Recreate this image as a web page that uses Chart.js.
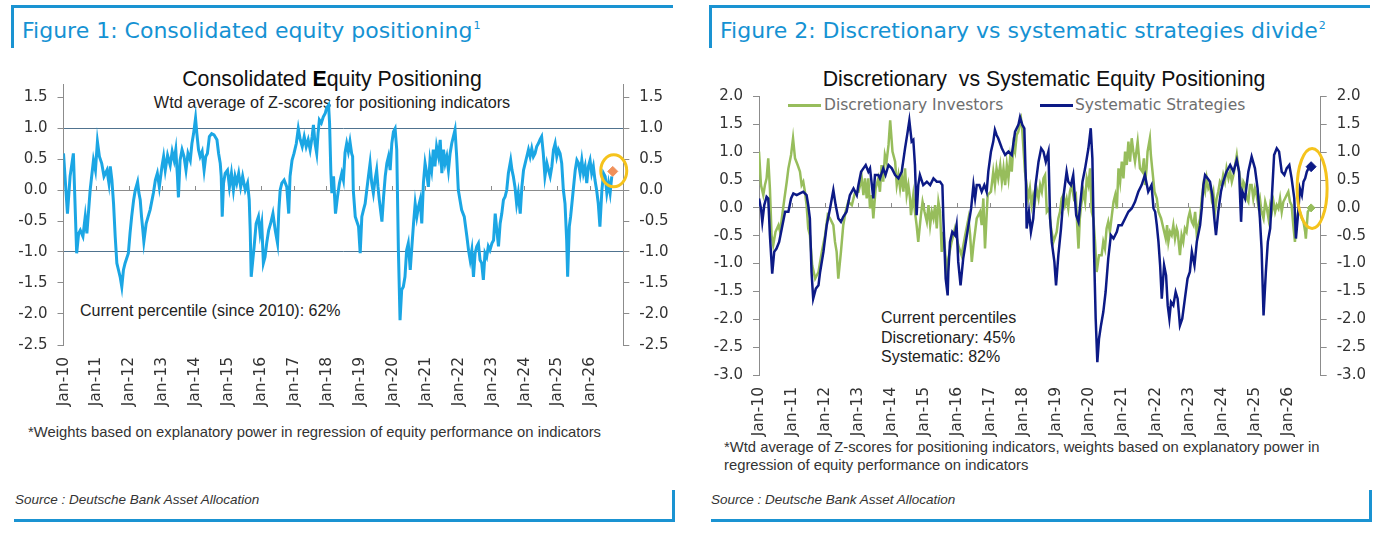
<!DOCTYPE html>
<html>
<head>
<meta charset="utf-8">
<title>Equity positioning</title>
<script src="https://cdn.jsdelivr.net/npm/chart.js@4.4.1/dist/chart.umd.min.js"></script>
<style>
  html, body { margin: 0; padding: 0; background: #fff; }
  body { width: 1390px; height: 538px; position: relative; overflow: hidden;
         font-family: "Liberation Sans", Arial, sans-serif; color: #222; }
  .abs { position: absolute; white-space: pre; z-index: 1; }
  .rule { position: absolute; background: #1a93d2; }
  .fig-title { font-family: "DejaVu Sans", sans-serif; font-size: 22px; line-height: 22px; color: #1592d3; }
  .fig-title sup { font-size: 11px; vertical-align: baseline; position: relative; top: -9px; margin-left: 1px; }
  .chart-title { font-size: 21.3px; line-height: 21px; color: #111; transform: translateX(-50%); }
  .chart-title b { color: #000; }
  .sub { font-size: 16.2px; line-height: 16px; color: #222; transform: translateX(-50%); }
  .note { font-size: 16px; line-height: 19.5px; color: #222; }
  .foot { font-size: 14.8px; line-height: 17.6px; color: #333; }
  .src { font-size: 13.5px; line-height: 13px; font-style: italic; color: #333; }
  .legend { font-family: "DejaVu Sans", sans-serif; font-size: 15.5px; line-height: 16px; color: #6e6e6e; }
  .swatch { position: absolute; height: 2.5px; z-index: 1; }
  canvas { position: absolute; top: 60px; z-index: 2; }
</style>
</head>
<body>

<!-- Figure 1 frame -->
<div class="rule" style="left:11px;top:5px;width:662px;height:3px;"></div>
<div class="rule" style="left:11px;top:5px;width:3px;height:43px;"></div>
<div class="abs fig-title" style="left:22px;top:20px;">Figure 1: Consolidated equity positioning<sup>1</sup></div>
<div class="abs chart-title" style="left:332px;top:69px;">Consolidated <b>E</b>quity Positioning</div>
<div class="abs sub" style="left:332px;top:94px;">Wtd average of Z-scores for positioning indicators</div>
<div class="abs note" style="left:80px;top:301px;">Current percentile (since 2010): 62%</div>
<div class="abs foot" style="left:28px;top:424px;">*Weights based on explanatory power in regression of equity performance on indicators</div>
<div class="abs src" style="left:15px;top:493px;">Source : Deutsche Bank Asset Allocation</div>
<div class="rule" style="left:14px;top:519px;width:661px;height:3px;"></div>
<div class="rule" style="left:672px;top:490px;width:3px;height:32px;"></div>

<!-- Figure 2 frame -->
<div class="rule" style="left:709px;top:5px;width:661px;height:3px;"></div>
<div class="rule" style="left:709px;top:5px;width:3px;height:43px;"></div>
<div class="abs fig-title" style="left:720px;top:20px;">Figure 2: Discretionary vs systematic strategies divide<sup>2</sup></div>
<div class="abs chart-title" style="left:1044px;top:69px;">Discretionary  vs Systematic Equity Positioning</div>
<div class="swatch" style="left:788px;top:104px;width:33px;background:#97bd5c;"></div>
<div class="abs legend" style="left:824px;top:97px;">Discretionary Investors</div>
<div class="swatch" style="left:1040px;top:104px;width:33px;background:#0c1a86;"></div>
<div class="abs legend" style="left:1075px;top:97px;">Systematic Strategies</div>
<div class="abs note" style="left:881px;top:308px;">Current percentiles
Discretionary: 45%
Systematic: 82%</div>
<div class="abs foot" style="left:724px;top:439px;">*Wtd average of Z-scores for positioning indicators, weights based on explanatory power in
regression of equity performance on indicators</div>
<div class="abs src" style="left:711px;top:493px;">Source : Deutsche Bank Asset Allocation</div>
<div class="rule" style="left:711px;top:519px;width:661px;height:3px;"></div>
<div class="rule" style="left:1369px;top:490px;width:3px;height:32px;"></div>

<canvas id="fig1" width="695" height="400" style="left:0px;"></canvas>
<canvas id="fig2" width="695" height="400" style="left:695px;"></canvas>

<script>
'use strict';

// ---- axis content ----
const yearTicks = [2010, 2011, 2012, 2013, 2014, 2015, 2016, 2017, 2018, 2019, 2020, 2021, 2022, 2023, 2024, 2025, 2026];
const yearLabels = ['Jan-10', 'Jan-11', 'Jan-12', 'Jan-13', 'Jan-14', 'Jan-15', 'Jan-16', 'Jan-17', 'Jan-18',
                    'Jan-19', 'Jan-20', 'Jan-21', 'Jan-22', 'Jan-23', 'Jan-24', 'Jan-25', 'Jan-26'];
const xRange = [2010, 2027];

const fig1YTicks = [1.5, 1.0, 0.5, 0.0, -0.5, -1.0, -1.5, -2.0, -2.5];
const fig1YRange = [-2.5, 1.7];
const fig2YTicks = [2.0, 1.5, 1.0, 0.5, 0.0, -0.5, -1.0, -1.5, -2.0, -2.5, -3.0];
const fig2YRange = [-3.0, 2.0];

// ---- Figure 1: consolidated positioning (decimal year, z-score) ----
const fig1Dates = [
  2010.00, 2010.12, 2010.20, 2010.30, 2010.40, 2010.46, 2010.51, 2010.59, 2010.66, 2010.71, 2010.81, 2010.91, 2010.97,
  2011.03, 2011.09, 2011.16, 2011.23, 2011.32, 2011.38, 2011.42, 2011.47, 2011.52, 2011.57, 2011.62, 2011.67, 2011.72,
  2011.77, 2011.82, 2011.87, 2011.97, 2012.02, 2012.07, 2012.13, 2012.18, 2012.25, 2012.29, 2012.33, 2012.37, 2012.41,
  2012.44, 2012.51, 2012.57, 2012.63, 2012.73, 2012.79, 2012.85, 2012.91, 2012.99, 2013.04, 2013.09, 2013.16, 2013.24,
  2013.30, 2013.36, 2013.41, 2013.46, 2013.49, 2013.54, 2013.60, 2013.66, 2013.72, 2013.78, 2013.85, 2013.90, 2013.95,
  2014.01, 2014.05, 2014.10, 2014.15, 2014.21, 2014.27, 2014.32, 2014.37, 2014.43, 2014.50, 2014.57, 2014.66, 2014.71,
  2014.76, 2014.79, 2014.82, 2014.86, 2014.91, 2014.98, 2015.04, 2015.10, 2015.16, 2015.21, 2015.26, 2015.32, 2015.38,
  2015.44, 2015.52, 2015.59, 2015.64, 2015.67, 2015.70, 2015.74, 2015.79, 2015.85, 2015.92, 2015.97, 2016.02, 2016.07,
  2016.12, 2016.17, 2016.23, 2016.29, 2016.36, 2016.43, 2016.50, 2016.54, 2016.58, 2016.63, 2016.70, 2016.78, 2016.84,
  2016.88, 2016.94, 2017.00, 2017.07, 2017.13, 2017.19, 2017.25, 2017.31, 2017.37, 2017.43, 2017.49, 2017.55, 2017.59,
  2017.64, 2017.69, 2017.73, 2017.77, 2017.83, 2017.89, 2017.95, 2017.99, 2018.05, 2018.08, 2018.12, 2018.15, 2018.20,
  2018.26, 2018.32, 2018.38, 2018.45, 2018.50, 2018.55, 2018.60, 2018.65, 2018.70, 2018.75, 2018.78, 2018.80, 2018.86,
  2018.96, 2019.01, 2019.06, 2019.11, 2019.16, 2019.21, 2019.26, 2019.31, 2019.36, 2019.41, 2019.46, 2019.51, 2019.55,
  2019.59, 2019.67, 2019.72, 2019.77, 2019.82, 2019.87, 2019.92, 2019.97, 2020.02, 2020.07, 2020.12, 2020.17, 2020.22,
  2020.27, 2020.32, 2020.37, 2020.42, 2020.47, 2020.53, 2020.58, 2020.63, 2020.68, 2020.73, 2020.78, 2020.83, 2020.88,
  2020.93, 2020.98, 2021.03, 2021.08, 2021.13, 2021.18, 2021.23, 2021.28, 2021.33, 2021.39, 2021.44, 2021.49, 2021.54,
  2021.59, 2021.64, 2021.69, 2021.74, 2021.79, 2021.84, 2021.89, 2021.94, 2021.99, 2022.04, 2022.09, 2022.17, 2022.25,
  2022.30, 2022.35, 2022.40, 2022.45, 2022.50, 2022.55, 2022.60, 2022.65, 2022.70, 2022.75, 2022.80, 2022.85, 2022.90,
  2022.95, 2023.01, 2023.06, 2023.11, 2023.16, 2023.21, 2023.26, 2023.31, 2023.36, 2023.41, 2023.46, 2023.51, 2023.58,
  2023.62, 2023.66, 2023.71, 2023.76, 2023.81, 2023.87, 2023.92, 2023.97, 2024.02, 2024.07, 2024.12, 2024.17, 2024.22,
  2024.27, 2024.32, 2024.37, 2024.42, 2024.47, 2024.52, 2024.57, 2024.62, 2024.68, 2024.73, 2024.78, 2024.83, 2024.88,
  2024.93, 2024.98, 2025.03, 2025.08, 2025.13, 2025.18, 2025.23, 2025.28, 2025.31, 2025.36, 2025.40, 2025.43, 2025.48,
  2025.54, 2025.59, 2025.64, 2025.69, 2025.74, 2025.79, 2025.84, 2025.89, 2025.94, 2025.99, 2026.04, 2026.09, 2026.14,
  2026.19, 2026.24, 2026.29, 2026.35, 2026.40, 2026.45, 2026.50, 2026.55, 2026.60, 2026.65
];
const fig1Values = [
  0.59, -0.38, 0.22, 0.59, -1.02, -0.70, -0.65, -0.75, -0.43, -0.70, 0.00, 0.48, 0.32,
  0.78, 0.54, 0.43, 0.22, 0.32, 0.11, 0.38, 0.16, -0.22, -0.75, -1.18, -1.29, -1.40,
  -1.56, -1.29, -1.18, -1.02, -0.70, -0.43, -0.16, 0.00, 0.13, -0.05, -0.16, -0.43, -0.65,
  -0.83, -0.54, -0.43, -0.32, -0.05, 0.16, 0.27, 0.05, 0.38, 0.54, 0.32, 0.56, 0.40,
  0.62, 0.48, 0.65, 0.22, -0.12, 0.48, 0.65, 0.54, 0.32, 0.59, 0.48, 0.75, 0.91,
  1.16, 0.91, 0.65, 0.54, 0.62, 0.32, 0.54, 0.59, 0.86, 0.91, 0.89, 0.81, 0.59,
  0.43, 0.22, -0.43, 0.11, 0.27, 0.32, 0.05, 0.27, 0.00, 0.22, 0.11, 0.27, 0.05,
  0.22, 0.00, 0.11, -0.16, -0.65, -1.40, -1.18, -0.91, -0.54, -0.43, -0.70, -0.54, -1.18,
  -1.08, -0.86, -0.65, -0.54, -0.38, -0.65, -0.86, -0.32, 0.00, 0.11, 0.16, 0.05, -0.38,
  0.22, 0.48, 0.59, 0.75, 0.99, 0.81, 0.70, 0.86, 0.70, 0.81, 0.65, 0.86, 1.05,
  0.75, 0.59, 0.91, 1.13, 1.08, 1.18, 1.24, 1.32, 1.37, 1.08, 0.27, -0.05, 0.22,
  -0.38, -0.11, 0.11, 0.27, 0.16, 0.60, 0.75, 0.62, 0.78, 0.59, 0.54, 0.00, -0.43,
  -0.59, -1.02, -0.43, -0.32, -0.22, 0.00, 0.22, 0.43, 0.11, -0.05, 0.16, 0.32, 0.05,
  -0.16, -0.51, -0.11, 0.22, 0.43, 0.54, 0.32, 0.75, 0.94, 0.99, 0.65, -0.97, -2.10,
  -1.61, -1.56, -1.40, -0.97, -0.86, -1.29, -0.91, -0.54, -0.22, -0.43, -0.27, -0.16, -0.54,
  0.11, 0.43, 0.27, 0.05, 0.48, 0.32, 0.65, 0.38, 0.70, 0.54, 0.81, 0.27, 0.65,
  0.43, 0.54, 0.32, 0.59, 0.75, 0.86, 0.97, 0.54, 0.00, -0.16, -0.32, -0.43, -0.75,
  -0.97, -1.13, -0.97, -1.40, -1.02, -0.91, -0.86, -1.13, -1.18, -1.45, -1.02, -1.08, -0.91,
  -0.97, -0.86, -0.81, -0.38, -0.65, -0.91, -0.54, -0.38, -0.16, -0.11, 0.00, 0.27, 0.48,
  0.32, 0.22, 0.05, -0.22, -0.05, -0.38, 0.05, 0.32, 0.43, 0.54, 0.65, 0.54, 0.67,
  0.54, 0.59, 0.70, 0.75, 0.81, 0.86, 0.59, 0.22, 0.43, 0.32, 0.22, 0.38, 0.65,
  0.75, 0.54, 0.65, 0.59, 0.43, 0.00, -0.22, -0.81, -1.40, -0.59, -0.43, -0.27, 0.00,
  0.32, 0.48, 0.43, 0.27, 0.48, 0.27, 0.38, 0.11, 0.38, 0.48, 0.27, 0.38, 0.16,
  0.00, -0.22, -0.59, 0.00, 0.27, 0.22, -0.05, 0.11, -0.05, 0.22
];
const fig1Latest = [2026.68, 0.30];
const fig1Ring = [2026.71, 0.31];

// ---- Figure 2: systematic strategies ----
const sysDates = [
  2010.00, 2010.06, 2010.10, 2010.16, 2010.23, 2010.28, 2010.33, 2010.40, 2010.46, 2010.53, 2010.61, 2010.69, 2010.79,
  2010.89, 2010.97, 2011.04, 2011.14, 2011.24, 2011.34, 2011.44, 2011.49, 2011.54, 2011.59, 2011.64, 2011.72, 2011.80,
  2011.85, 2011.95, 2012.05, 2012.15, 2012.25, 2012.32, 2012.40, 2012.48, 2012.55, 2012.65, 2012.75, 2012.86, 2012.96,
  2013.01, 2013.09, 2013.16, 2013.23, 2013.31, 2013.36, 2013.46, 2013.51, 2013.61, 2013.66, 2013.76, 2013.83, 2013.92,
  2014.02, 2014.12, 2014.22, 2014.32, 2014.42, 2014.50, 2014.55, 2014.62, 2014.67, 2014.72, 2014.77, 2014.82, 2014.87,
  2014.97, 2015.08, 2015.18, 2015.28, 2015.38, 2015.48, 2015.55, 2015.58, 2015.65, 2015.71, 2015.73, 2015.78, 2015.85,
  2015.93, 2015.98, 2016.03, 2016.10, 2016.18, 2016.26, 2016.34, 2016.42, 2016.49, 2016.54, 2016.59, 2016.67, 2016.74,
  2016.82, 2016.89, 2016.94, 2017.02, 2017.09, 2017.14, 2017.19, 2017.24, 2017.35, 2017.45, 2017.55, 2017.65, 2017.75,
  2017.85, 2017.90, 2017.97, 2018.03, 2018.08, 2018.10, 2018.17, 2018.23, 2018.30, 2018.37, 2018.46, 2018.54, 2018.61,
  2018.68, 2018.76, 2018.81, 2018.86, 2018.94, 2018.99, 2019.06, 2019.14, 2019.22, 2019.31, 2019.36, 2019.44, 2019.51,
  2019.60, 2019.67, 2019.72, 2019.79, 2019.87, 2019.97, 2020.04, 2020.09, 2020.14, 2020.19, 2020.24, 2020.29, 2020.35,
  2020.42, 2020.49, 2020.57, 2020.65, 2020.73, 2020.83, 2020.88, 2020.98, 2021.08, 2021.18, 2021.28, 2021.38, 2021.48,
  2021.58, 2021.68, 2021.78, 2021.88, 2021.94, 2021.99, 2022.04, 2022.09, 2022.14, 2022.19, 2022.26, 2022.32, 2022.37,
  2022.42, 2022.47, 2022.54, 2022.61, 2022.67, 2022.74, 2022.81, 2022.89, 2022.97, 2023.04, 2023.10, 2023.18, 2023.25,
  2023.35, 2023.40, 2023.45, 2023.50, 2023.58, 2023.65, 2023.72, 2023.78, 2023.83, 2023.90, 2023.98, 2024.05, 2024.15,
  2024.26, 2024.36, 2024.46, 2024.53, 2024.59, 2024.63, 2024.71, 2024.81, 2024.91, 2025.01, 2025.09, 2025.16, 2025.21,
  2025.27, 2025.34, 2025.40, 2025.47, 2025.52, 2025.59, 2025.67, 2025.74, 2025.82, 2025.90, 2025.97, 2026.05, 2026.12,
  2026.20, 2026.25, 2026.32, 2026.37, 2026.43, 2026.48, 2026.53, 2026.58, 2026.63, 2026.71
];
const sysValues = [
  0.17, -0.01, -0.25, 0.05, 0.20, 0.17, -0.49, -1.18, -0.79, -0.73, -0.61, -0.37, -0.07,
  -0.07, 0.17, 0.26, 0.23, 0.26, 0.29, 0.23, 0.05, -0.19, -1.15, -1.63, -1.45, -1.39,
  -1.15, -0.79, -0.31, -0.01, 0.32, 0.05, -0.19, -0.25, -0.16, -0.07, 0.23, 0.35, 0.23,
  0.41, 0.65, 0.71, 0.77, 0.65, 0.71, 0.17, 0.59, 0.59, 0.53, 0.71, 0.59, 0.77,
  0.71, 0.59, 0.53, 0.65, 1.07, 1.37, 1.57, 1.19, 1.22, 0.77, -0.13, 0.41, 0.59,
  0.41, 0.47, 0.41, 0.53, 0.47, 0.47, 0.41, -0.19, -1.27, -1.57, -1.15, -0.61, -0.43,
  -0.49, -0.31, -0.97, -1.39, -0.91, -0.61, -0.31, -0.01, 0.41, 0.17, 0.41, 0.41, 0.29,
  0.41, 0.29, 0.65, 1.01, 1.19, 1.40, 1.31, 1.25, 1.07, 0.95, 1.01, 0.95, 1.37,
  1.49, 1.63, 1.49, 1.43, 0.41, -0.37, -0.07, -0.43, -0.19, 0.41, 0.83, 1.07, 1.01,
  0.83, 1.01, -0.19, -0.61, -0.97, -1.39, -0.85, -0.37, 0.23, 0.65, 0.47, 0.41, 0.59,
  -0.13, -0.25, 0.05, 0.47, 0.71, 1.07, 1.43, 0.89, -0.79, -1.99, -2.77, -2.35, -2.11,
  -1.87, -1.51, -0.91, -0.49, -0.55, -0.43, -0.31, -0.31, -0.19, -0.07, -0.01, 0.11, 0.29,
  0.41, 0.59, 0.29, 0.41, -0.01, -0.07, -0.31, -0.61, -1.03, -1.63, -1.03, -1.21, -1.75,
  -1.99, -1.69, -1.75, -1.51, -1.63, -2.11, -1.99, -1.63, -1.27, -1.15, -0.79, -1.03, -0.61,
  -0.31, -0.01, 0.41, 0.59, 0.53, 0.47, 0.23, -0.19, -0.49, -0.07, 0.29, 0.47, 0.65,
  0.77, 0.65, 0.86, 0.65, -0.25, 0.29, 0.17, 0.65, 0.92, 0.71, 0.35, -0.19, -0.73,
  -1.93, -1.15, -0.61, -0.37, 0.17, 0.95, 1.07, 1.01, 0.65, 0.59, 0.71, 0.77, 0.53,
  0.17, -0.55, -0.07, 0.35, 0.23, 0.47, 0.53, 0.65, 0.71, 0.74
];

// ---- Figure 2: discretionary investors ----
const discDates = [
  2010.00, 2010.06, 2010.13, 2010.18, 2010.23, 2010.28, 2010.33, 2010.38, 2010.43, 2010.50, 2010.59, 2010.64, 2010.69,
  2010.77, 2010.84, 2010.89, 2010.97, 2011.03, 2011.09, 2011.17, 2011.24, 2011.29, 2011.34, 2011.39, 2011.44, 2011.49,
  2011.54, 2011.61, 2011.70, 2011.80, 2011.90, 2012.00, 2012.08, 2012.15, 2012.25, 2012.30, 2012.35, 2012.40, 2012.48,
  2012.55, 2012.62, 2012.70, 2012.81, 2012.91, 2013.01, 2013.11, 2013.16, 2013.21, 2013.26, 2013.31, 2013.36, 2013.41,
  2013.46, 2013.53, 2013.61, 2013.66, 2013.71, 2013.76, 2013.81, 2013.86, 2013.92, 2013.97, 2014.04, 2014.12, 2014.17,
  2014.22, 2014.27, 2014.32, 2014.37, 2014.42, 2014.47, 2014.52, 2014.57, 2014.60, 2014.67, 2014.72, 2014.77, 2014.82,
  2014.90, 2014.95, 2015.01, 2015.08, 2015.13, 2015.18, 2015.23, 2015.28, 2015.33, 2015.38, 2015.43, 2015.48, 2015.53,
  2015.58, 2015.65, 2015.68, 2015.73, 2015.83, 2015.93, 2016.03, 2016.13, 2016.24, 2016.34, 2016.39, 2016.44, 2016.49,
  2016.59, 2016.69, 2016.74, 2016.79, 2016.84, 2016.92, 2017.02, 2017.09, 2017.14, 2017.19, 2017.24, 2017.30, 2017.35,
  2017.40, 2017.45, 2017.50, 2017.55, 2017.60, 2017.65, 2017.70, 2017.75, 2017.80, 2017.85, 2017.90, 2017.93, 2017.97,
  2018.01, 2018.05, 2018.10, 2018.15, 2018.20, 2018.25, 2018.30, 2018.35, 2018.40, 2018.46, 2018.51, 2018.56, 2018.61,
  2018.66, 2018.71, 2018.78, 2018.84, 2018.91, 2019.01, 2019.06, 2019.11, 2019.16, 2019.21, 2019.26, 2019.31, 2019.36,
  2019.41, 2019.46, 2019.53, 2019.59, 2019.63, 2019.67, 2019.71, 2019.75, 2019.82, 2019.87, 2019.92, 2019.97, 2020.02,
  2020.07, 2020.12, 2020.17, 2020.22, 2020.29, 2020.37, 2020.42, 2020.47, 2020.52, 2020.57, 2020.62, 2020.68, 2020.73,
  2020.78, 2020.83, 2020.88, 2020.93, 2020.98, 2021.03, 2021.08, 2021.13, 2021.18, 2021.23, 2021.28, 2021.33, 2021.38,
  2021.46, 2021.53, 2021.60, 2021.65, 2021.68, 2021.73, 2021.76, 2021.83, 2021.86, 2021.90, 2021.97, 2022.04, 2022.09,
  2022.17, 2022.24, 2022.31, 2022.35, 2022.39, 2022.44, 2022.49, 2022.54, 2022.59, 2022.64, 2022.67, 2022.74, 2022.79,
  2022.84, 2022.89, 2022.94, 2022.99, 2023.04, 2023.10, 2023.15, 2023.20, 2023.25, 2023.30, 2023.35, 2023.40, 2023.45,
  2023.50, 2023.55, 2023.60, 2023.65, 2023.70, 2023.75, 2023.80, 2023.85, 2023.90, 2023.95, 2024.00, 2024.05, 2024.10,
  2024.15, 2024.21, 2024.26, 2024.31, 2024.36, 2024.41, 2024.46, 2024.51, 2024.56, 2024.61, 2024.66, 2024.71, 2024.76,
  2024.81, 2024.86, 2024.91, 2024.96, 2025.01, 2025.06, 2025.11, 2025.16, 2025.21, 2025.27, 2025.32, 2025.37, 2025.42,
  2025.47, 2025.52, 2025.57, 2025.62, 2025.67, 2025.72, 2025.77, 2025.82, 2025.87, 2025.92, 2025.97, 2026.02, 2026.07,
  2026.12, 2026.17, 2026.22, 2026.27, 2026.32, 2026.37, 2026.43, 2026.48, 2026.53, 2026.55, 2026.61, 2026.68
];
const discValues = [
  1.01, 0.41, 0.23, 0.41, 0.53, 0.89, 0.35, -0.49, -0.67, -0.43, -0.31, -0.43, -0.19,
  0.17, 0.47, 0.71, 0.95, 1.25, 0.89, 0.77, 0.65, 0.41, 0.47, 0.29, 0.05, -0.37,
  -0.49, -1.03, -1.27, -1.15, -0.79, -0.49, -0.13, -0.19, -0.31, -0.61, -0.79, -1.27, -0.79,
  -0.31, -0.07, 0.11, 0.05, 0.29, 0.29, 0.53, 0.23, 0.53, 0.17, 0.53, -0.01, 0.23,
  -0.19, 0.35, 0.53, 0.29, 0.77, 0.47, 0.95, 0.83, 1.13, 1.57, 1.01, 0.83, 0.41,
  0.59, 0.35, 0.59, 0.29, 0.71, 0.23, 0.41, 0.17, -0.13, 0.23, -0.07, -0.31, -0.61,
  -0.13, 0.11, -0.07, -0.25, 0.05, -0.31, -0.07, -0.19, 0.05, -0.37, 0.11, -0.07, -0.79,
  -0.43, -0.91, -1.27, -0.91, -0.61, -0.37, -0.67, -0.85, -0.49, -0.19, -0.49, -0.97, -0.67,
  -0.19, -0.07, -0.31, 0.17, -0.73, 0.23, 0.29, 0.65, 0.41, 0.71, 0.53, 0.77, 0.47,
  0.71, 0.41, 0.77, 0.53, 0.89, 0.65, 1.13, 1.01, 1.31, 1.37, 1.54, 1.60, 1.37,
  1.01, 0.65, 0.41, 0.17, 0.35, 0.05, 0.23, 0.11, 0.35, 0.17, 0.41, 0.29, 0.53,
  0.59, -0.07, -0.01, -0.37, -0.61, -0.43, -0.19, -0.07, 0.17, 0.23, 0.05, 0.17, -0.01,
  0.29, 0.41, 0.17, 0.23, -0.31, -0.73, -0.19, 0.05, 0.29, 0.11, 0.53, 0.41, 0.71,
  -0.07, -0.19, -0.61, -1.15, -0.85, -0.85, -0.61, -0.73, -0.37, -0.25, -0.43, -0.13, 0.11,
  0.23, -0.01, 0.71, 0.47, 0.83, 0.53, 1.01, 0.77, 1.19, 0.83, 1.25, 1.01, 0.83,
  1.19, 0.71, 0.65, 0.89, 0.41, 0.71, 1.01, 1.25, 0.95, 0.71, 0.29, 0.17, -0.07,
  -0.19, -0.37, -0.55, -0.31, -0.61, -0.43, -0.49, -0.31, -0.55, -0.37, -0.43, -0.85, -0.49,
  -0.61, -0.37, -0.43, -0.19, -0.07, -0.25, -0.31, -0.07, -0.49, -0.31, -0.19, 0.17, 0.41,
  0.29, 0.53, 0.35, 0.41, 0.17, 0.29, -0.07, 0.17, 0.29, 0.47, 0.41, 0.59, 0.47,
  0.71, 0.53, 0.65, 0.47, 0.59, 0.77, 0.95, 0.71, 0.53, 0.23, 0.47, 0.41, 0.17,
  0.11, 0.41, 0.41, 0.17, 0.35, 0.23, 0.05, 0.17, -0.07, -0.19, 0.11, -0.01, -0.19,
  0.05, -0.07, 0.11, -0.07, 0.05, -0.01, 0.17, -0.07, 0.11, 0.17, 0.23, 0.29, 0.11,
  0.05, -0.31, -0.61, -0.25, -0.07, -0.07, -0.19, -0.25, -0.43, -0.55, -0.07, -0.01
];
const sysLatest = [2026.71, 0.74];
const discLatest = [2026.71, 0.00];
const fig2Ring = [2026.74, 0.35];

const COLORS = {
    consolidated: '#1ba6e4',
    latestDot: '#f0905a',
    discretionary: '#97bd5c',
    systematic: '#0c1a86',
    ring: '#f5c31c',
    axis: '#8c8c8c',
    band: '#50738f',
    tick: '#333',
};

Chart.defaults.font.family = '"DejaVu Sans", "Liberation Sans", sans-serif';
Chart.defaults.color = COLORS.tick;

function toPoints(dates, values) {
    return dates.map((d, i) => ({ x: d, y: values[i] }));
}

// yellow ring around the latest reading
const highlightRing = {
    id: 'highlightRing',
    afterDatasetsDraw(chart, args, opts) {
        const { ctx, scales } = chart;
        const cx = scales.x.getPixelForValue(opts.at[0]);
        const cy = scales.y.getPixelForValue(opts.at[1]);
        ctx.save();
        ctx.strokeStyle = COLORS.ring;
        ctx.lineWidth = 3;
        ctx.beginPath();
        ctx.ellipse(cx, cy, opts.rx, opts.ry, 0, 0, Math.PI * 2);
        ctx.stroke();
        ctx.restore();
    }
};

function yAxis(position, range, ticks, width, bandColor) {
    return {
        type: 'linear',
        axis: 'y',
        position,
        min: range[0],
        max: range[1],
        afterBuildTicks: s => { s.ticks = ticks.map(v => ({ value: v })); },
        afterFit: s => { s.width = width; },
        ticks: { font: { size: 15 }, color: COLORS.tick, padding: 10, callback: v => Number(v).toFixed(1) },
        grid: {
            drawOnChartArea: !!bandColor,
            color: bandColor || 'transparent',
            tickColor: COLORS.axis,
            tickLength: 6,
        },
        border: { display: true, color: COLORS.axis, width: 1 },
    };
}

function xAxes(height) {
    return {
        x: {
            type: 'linear',
            min: xRange[0],
            max: xRange[1],
            afterBuildTicks: s => { s.ticks = yearTicks.map(v => ({ value: v })); },
            afterFit: s => { s.height = height; },
            ticks: {
                autoSkip: false,
                minRotation: 90,
                maxRotation: 90,
                padding: 12,
                font: { size: 15.5 },
                color: COLORS.tick,
                callback: v => yearLabels[yearTicks.indexOf(v)],
            },
            grid: { display: false, drawTicks: false },
            border: { display: false },
        },
        // zero line with year tick marks
        x2: {
            type: 'linear',
            axis: 'x',
            position: { y: 0 },
            min: xRange[0],
            max: xRange[1],
            afterBuildTicks: s => { s.ticks = yearTicks.map(v => ({ value: v })); },
            ticks: { display: false },
            grid: { drawOnChartArea: false, drawTicks: true, tickLength: -5, tickColor: COLORS.axis },
            border: { display: true, color: COLORS.axis, width: 1 },
        },
    };
}

function baseOptions(padTop, scales, ring) {
    return {
        responsive: false,
        animation: false,
        layout: { padding: { top: padTop, left: 0, right: 0, bottom: 0 } },
        plugins: {
            legend: { display: false },
            tooltip: { enabled: false },
            highlightRing: ring,
        },
        scales,
    };
}

// Figure 1
const bandAtOne = ctx => (ctx.tick && Math.abs(Math.abs(ctx.tick.value) - 1) < 1e-9) ? COLORS.band : 'transparent';

new Chart(document.getElementById('fig1'), {
    type: 'line',
    data: {
        datasets: [
            {
                label: 'Latest',
                data: [{ x: fig1Latest[0], y: fig1Latest[1] }],
                showLine: false,
                pointStyle: 'rectRot',
                pointRadius: 5,
                backgroundColor: COLORS.latestDot,
                borderColor: COLORS.latestDot,
            },
            {
                label: 'Consolidated Equity Positioning',
                data: toPoints(fig1Dates, fig1Values),
                borderColor: COLORS.consolidated,
                borderWidth: 3,
                pointRadius: 0,
                tension: 0,
            },
        ],
    },
    options: baseOptions(24.6, Object.assign({
        y: yAxis('left', fig1YRange, fig1YTicks, 63.5, bandAtOne),
        yR: yAxis('right', fig1YRange, fig1YTicks, 71.7, null),
    }, xAxes(115)), { at: fig1Ring, rx: 13, ry: 16 }),
    plugins: [highlightRing],
});

// Figure 2
new Chart(document.getElementById('fig2'), {
    type: 'line',
    data: {
        datasets: [
            {
                label: 'Systematic latest',
                data: [{ x: sysLatest[0], y: sysLatest[1] }],
                showLine: false,
                pointStyle: 'rectRot',
                pointRadius: 5,
                backgroundColor: COLORS.systematic,
                borderColor: COLORS.systematic,
            },
            {
                label: 'Systematic Strategies',
                data: toPoints(sysDates, sysValues),
                borderColor: COLORS.systematic,
                borderWidth: 2.5,
                pointRadius: 0,
                tension: 0,
            },
            {
                label: 'Discretionary latest',
                data: [{ x: discLatest[0], y: discLatest[1] }],
                showLine: false,
                pointStyle: 'rectRot',
                pointRadius: 4,
                backgroundColor: COLORS.discretionary,
                borderColor: COLORS.discretionary,
            },
            {
                label: 'Discretionary Investors',
                data: toPoints(discDates, discValues),
                borderColor: COLORS.discretionary,
                borderWidth: 2.5,
                pointRadius: 0,
                tension: 0,
            },
        ],
    },
    options: baseOptions(36.5, Object.assign({
        y: yAxis('left', fig2YRange, fig2YTicks, 64, null),
        yR: yAxis('right', fig2YRange, fig2YTicks, 69.3, null),
    }, xAxes(85)), { at: fig2Ring, rx: 15, ry: 40 }),
    plugins: [highlightRing],
});
</script>
</body>
</html>
